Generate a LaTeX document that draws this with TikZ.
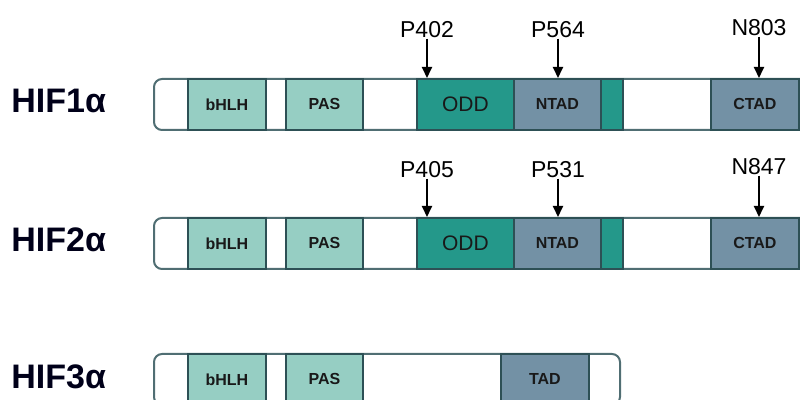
\documentclass[tikz,border=0pt]{standalone}
\usepackage{fontspec}
\setmainfont{Liberation Sans}
\usepackage{xcolor}
\definecolor{domlight}{RGB}{150,206,195}
\definecolor{domteal}{RGB}{36,152,138}
\definecolor{domslate}{RGB}{115,145,165}
\definecolor{domframe}{RGB}{45,80,85}
\definecolor{barframe}{RGB}{80,110,115}
\usepackage{tikz}
\usetikzlibrary{arrows.meta, positioning}

\begin{document}
\begin{tikzpicture}[
  x=0.5pt, y=-0.5pt,
  chain/.style={draw=barframe, line width=1pt, rounded corners=4pt,
    fill=white, minimum height=25.5pt, anchor=north west, inner sep=0pt},
  dom/.style={draw=domframe, line width=0.9pt, minimum height=25.5pt,
    inner sep=0pt, anchor=north west, text=black!90,
    font=\fontsize{8}{9}\selectfont\bfseries},
  lightdom/.style={dom, fill=domlight},
  tealdom/.style={dom, fill=domteal},
  slatedom/.style={dom, fill=domslate},
  site/.style={font=\fontsize{11.5}{13}\selectfont, text=black, inner sep=0pt},
  protein/.style={font=\fontsize{17}{19}\selectfont\bfseries, anchor=west,
    inner sep=0pt, text=black!90!blue},
  hit/.style={-{Triangle[length=5.5pt,width=5pt]}, line width=1pt},
]
\useasboundingbox (0,0) rectangle (800,400);

% HIF1a
\node[protein] (hif1) at (11,101) {HIF1α};
\node[chain, minimum width=327.5pt] (bar1) at (153,78) {};
\node[lightdom, minimum width=39pt] (bhlh1) at (187,78) {bHLH};
\node[lightdom, minimum width=38.5pt] (pas1) at (285,78) {PAS};
\node[tealdom, minimum width=48.5pt, font=\fontsize{10.5}{12}\selectfont] (odd1) at (416,78) {ODD};
\node[slatedom, minimum width=43.5pt] (ntad1) at (513,78) {NTAD};
\node[tealdom, minimum width=11pt] (tail1) at (600,78) {};
\node[slatedom, minimum width=44pt] (ctad1) at (710,78) {CTAD};
\node[site] (p402) at (427,30) {P402};
\node[site] (p564) at (558,30) {P564};
\node[site] (n803) at (759,28) {N803};
\draw[hit] (p402.south) -- (p402.south |- odd1.north);
\draw[hit] (p564.south) -- (p564.south |- ntad1.north);
\draw[hit] (n803.south) -- (n803.south |- ctad1.north);

% HIF2a
\node[protein] (hif2) at (11,240) {HIF2α};
\node[chain, minimum width=327.5pt] (bar2) at (153,217) {};
\node[lightdom, minimum width=39pt] (bhlh2) at (187,217) {bHLH};
\node[lightdom, minimum width=38.5pt] (pas2) at (285,217) {PAS};
\node[tealdom, minimum width=48.5pt, font=\fontsize{10.5}{12}\selectfont] (odd2) at (416,217) {ODD};
\node[slatedom, minimum width=43.5pt] (ntad2) at (513,217) {NTAD};
\node[tealdom, minimum width=11pt] (tail2) at (600,217) {};
\node[slatedom, minimum width=44pt] (ctad2) at (710,217) {CTAD};
\node[site] (p405) at (427,170) {P405};
\node[site] (p531) at (558,170) {P531};
\node[site] (n847) at (759,167) {N847};
\draw[hit] (p405.south) -- (p405.south |- odd2.north);
\draw[hit] (p531.south) -- (p531.south |- ntad2.north);
\draw[hit] (n847.south) -- (n847.south |- ctad2.north);

% HIF3a
\node[protein] (hif3) at (11,377) {HIF3α};
\node[chain, minimum width=233pt] (bar3) at (153,353) {};
\node[lightdom, minimum width=39pt] (bhlh3) at (187,353) {bHLH};
\node[lightdom, minimum width=38.5pt] (pas3) at (285,353) {PAS};
\node[slatedom, minimum width=44pt] (tad3) at (500,353) {TAD};
\end{tikzpicture}
\end{document}
